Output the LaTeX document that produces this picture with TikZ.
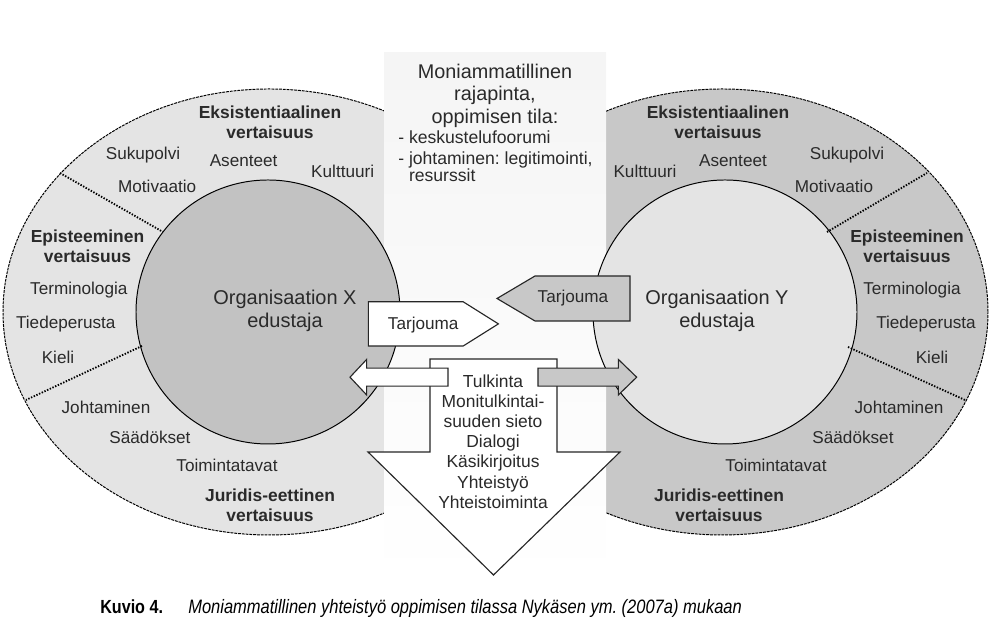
\documentclass[tikz,border=0pt]{standalone}
\usepackage{fontspec}
\setmainfont{Liberation Sans}
\newfontfamily\capfont[FakeStretch=0.85]{Liberation Sans}
\definecolor{paleGray}{HTML}{E4E4E4}
\definecolor{midGray}{HTML}{C8C8C8}
\definecolor{inkGray}{HTML}{2A2A2A}
\frenchspacing
\begin{document}
\begin{tikzpicture}[
    lbl/.style={font=\fontsize{12.2}{14}\selectfont, text=inkGray, inner sep=0pt},
    head/.style={font=\fontsize{12.4}{14.2}\selectfont\bfseries, text=inkGray, align=center, inner sep=0pt},
    org/.style={font=\fontsize{14.2}{16.4}\selectfont, text=inkGray, align=center, inner sep=0pt},
    rim/.style={line width=0.7pt, dash pattern=on 2pt off 0.7pt},
    divider/.style={line width=1.3pt, dash pattern=on 1pt off 1.1pt},
    blockarrow/.style={draw=black!85, line width=0.8pt, line join=miter}
]
    \useasboundingbox (0, 0) rectangle (24.925, 15.975);

    % Outer ellipses
    \draw[rim, fill=paleGray] (6.725, 8.175) ellipse [x radius=6.65, y radius=5.575];
    \draw[rim, fill=midGray] (18.05, 8.175) ellipse [x radius=6.65, y radius=5.575];

    % Central panel
    \shade[top color=black!4, middle color=black!8, bottom color=white] (9.6, 1.4) rectangle (15.15, 14.65);

    % Inner circles
    \draw[line width=0.7pt, fill=midGray!97!black] (6.7, 8.175) circle (3.3);
    \draw[line width=0.7pt, fill=paleGray] (18.125, 8.175) circle (3.3);

    % Dotted dividers
    \draw[divider] (1.5, 11.65) -- (4.075, 10.175);
    \draw[divider] (3.55, 7.325) -- (0.65, 5.975);
    \draw[divider] (20.675, 10.175) -- (23.175, 11.65);
    \draw[divider] (21.2, 7.3) -- (24.125, 5.975);

    % Big downward arrow
    \draw[blockarrow, fill=white] (10.75, 7.0) -- (13.925, 7.0) -- (13.925, 4.675) -- (15.5, 4.675)
        -- (12.3375, 1.6) -- (9.2, 4.675) -- (10.75, 4.675) -- cycle;

    % Small side arrows
    \draw[blockarrow, fill=white] (11.2, 6.77) -- (9.167, 6.77) -- (9.167, 6.99) -- (8.75, 6.545)
        -- (9.167, 6.1) -- (9.167, 6.32) -- (11.2, 6.32) -- cycle;
    \draw[blockarrow, fill=midGray] (13.45, 6.77) -- (15.458, 6.77) -- (15.458, 6.99) -- (15.917, 6.545)
        -- (15.458, 6.1) -- (15.458, 6.32) -- (13.45, 6.32) -- cycle;

    % Tarjouma arrows
    \draw[blockarrow, fill=white] (9.21, 8.43) -- (11.58, 8.43) -- (12.46, 7.8775) -- (11.58, 7.325)
        -- (9.21, 7.325) -- cycle;
    \draw[blockarrow, fill=midGray] (15.75, 9.075) -- (13.375, 9.075) -- (12.425, 8.5125) -- (13.375, 7.95)
        -- (15.75, 7.95) -- cycle;
    \node[lbl] (offerX) at (10.58, 7.85) {Tarjouma};
    \node[lbl] (offerY) at (14.325, 8.525) {Tarjouma};

    % Central texts
    \node[org, font=\fontsize{14.1}{16}\selectfont] (zone) at (12.375, 13.5875) {Moniammatillinen\\rajapinta,\\oppimisen tila:};
    \node[lbl, font=\fontsize{12.5}{14.9}\selectfont, align=left, anchor=north west] (forum) at (9.95, 12.72)
        {- keskustelufoorumi\\- johtaminen: legitimointi,\\[-2.8pt]\phantom{- }resurssit};
    \node[lbl, font=\fontsize{12.4}{14.35}\selectfont, align=center] (skills) at (12.325, 4.9375)
        {Tulkinta\\Monitulkintai-\\suuden sieto\\Dialogi\\Käsikirjoitus\\Yhteistyö\\Yhteistoiminta};

    % Left organisation
    \node[org] (orgX) at (7.125, 8.2125) {Organisaation X\\edustaja};
    \node[head] (exX) at (6.75, 12.925) {Eksistentiaalinen\\vertaisuus};
    \node[head] (epX) at (2.1875, 9.825) {Episteeminen\\vertaisuus};
    \node[head] (juX) at (6.75, 3.35) {Juridis-eettinen\\vertaisuus};
    \node[lbl] (genX) at (3.575, 12.1) {Sukupolvi};
    \node[lbl] (attX) at (6.09, 11.96) {Asenteet};
    \node[lbl] (culX) at (8.5675, 11.68) {Kulttuuri};
    \node[lbl] (motX) at (3.93, 11.325) {Motivaatio};
    \node[lbl] (terX) at (1.97, 8.725) {Terminologia};
    \node[lbl] (sciX) at (1.645, 7.88) {Tiedeperusta};
    \node[lbl] (lanX) at (1.45, 7.05) {Kieli};
    \node[lbl] (ledX) at (2.65, 5.8) {Johtaminen};
    \node[lbl] (regX) at (3.75, 5.05) {Säädökset};
    \node[lbl] (praX) at (5.675, 4.35) {Toimintatavat};

    % Right organisation
    \node[org] (orgY) at (17.925, 8.2125) {Organisaation Y\\edustaja};
    \node[head] (exY) at (17.95, 12.925) {Eksistentiaalinen\\vertaisuus};
    \node[head] (epY) at (22.675, 9.825) {Episteeminen\\vertaisuus};
    \node[head] (juY) at (17.975, 3.35) {Juridis-eettinen\\vertaisuus};
    \node[lbl] (culY) at (16.125, 11.68) {Kulttuuri};
    \node[lbl] (attY) at (18.325, 11.96) {Asenteet};
    \node[lbl] (genY) at (21.175, 12.1) {Sukupolvi};
    \node[lbl] (motY) at (20.85, 11.325) {Motivaatio};
    \node[lbl] (terY) at (22.8, 8.725) {Terminologia};
    \node[lbl] (sciY) at (23.15, 7.88) {Tiedeperusta};
    \node[lbl] (lanY) at (23.3, 7.05) {Kieli};
    \node[lbl] (ledY) at (22.475, 5.8) {Johtaminen};
    \node[lbl] (regY) at (21.325, 5.05) {Säädökset};
    \node[lbl] (praY) at (19.4, 4.35) {Toimintatavat};

    % Caption
    \node[anchor=base west, inner sep=0pt, font=\capfont\fontsize{13.5}{15}\selectfont\bfseries] (capnum) at (2.5, 0.625) {Kuvio 4.};
    \node[anchor=base west, inner sep=0pt, font=\capfont\fontsize{13.8}{15}\selectfont\itshape] (captext) at (4.7, 0.625)
        {Moniammatillinen yhteistyö oppimisen tilassa Nykäsen ym. (2007a) mukaan};
\end{tikzpicture}
\end{document}
